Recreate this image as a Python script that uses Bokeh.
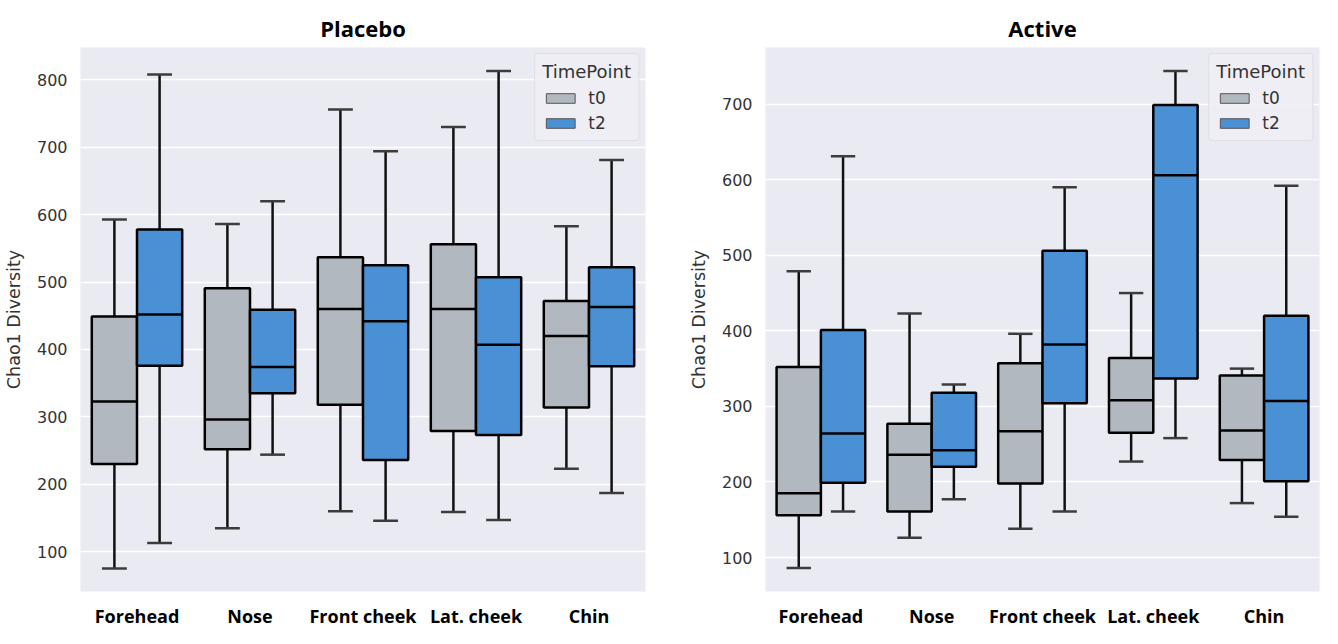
from bokeh.plotting import figure
from bokeh.layouts import row
from bokeh.models import ColumnDataSource, FactorRange, Legend, LegendItem, FixedTicker
from bokeh.transform import dodge
from bokeh.embed import file_html
from bokeh.resources import INLINE

sites = ["Forehead", "Nose", "Front cheek", "Lat. cheek", "Chin"]
timepoints = ["t0", "t2"]
colors = {"t0": "#b2b8bf", "t2": "#4a90d4"}

# Placebo: whisker low, Q1, median, Q3, whisker high
placebo_t0_low = [75, 135, 160, 159, 223]
placebo_t0_q1 = [230, 252, 318, 279, 314]
placebo_t0_med = [323, 296, 460, 460, 420]
placebo_t0_q3 = [449, 491, 537, 556, 472]
placebo_t0_high = [593, 586, 756, 730, 583]

placebo_t2_low = [113, 244, 146, 147, 187]
placebo_t2_q1 = [376, 335, 236, 273, 375]
placebo_t2_med = [452, 374, 442, 407, 463]
placebo_t2_q3 = [578, 459, 525, 507, 522]
placebo_t2_high = [808, 620, 694, 813, 681]

# Active
active_t0_low = [86, 126, 138, 227, 172]
active_t0_q1 = [156, 161, 198, 265, 229]
active_t0_med = [185, 236, 267, 308, 268]
active_t0_q3 = [352, 277, 357, 364, 341]
active_t0_high = [479, 423, 396, 450, 350]

active_t2_low = [161, 177, 161, 258, 154]
active_t2_q1 = [199, 220, 304, 337, 201]
active_t2_med = [264, 242, 382, 606, 307]
active_t2_q3 = [401, 318, 506, 699, 420]
active_t2_high = [631, 329, 590, 744, 592]

placebo_yticks = [100, 200, 300, 400, 500, 600, 700, 800]
active_yticks = [100, 200, 300, 400, 500, 600, 700]


def make_panel(title, series, yrange, yticks, width, left, right, title_offset):
    p = figure(
        x_range=FactorRange(factors=sites, range_padding=0),
        y_range=yrange,
        width=width, height=630,
        min_border_left=left, min_border_right=right,
        min_border_top=47, min_border_bottom=0,
        output_backend="svg", toolbar_location=None,
        title=title,
    )
    p.title.align = "center"
    p.title.offset = title_offset
    p.title.text_font = "Open Sans"
    p.title.text_font_style = "bold"
    p.title.text_font_size = "22px"
    p.title.text_color = "#000000"
    p.background_fill_color = "#eaeaf2"
    p.border_fill_color = "#ffffff"
    p.outline_line_color = None
    p.xgrid.grid_line_color = None
    p.ygrid.grid_line_color = "#ffffff"
    p.ygrid.grid_line_width = 1.5
    p.yaxis.ticker = FixedTicker(ticks=yticks)
    for ax in (p.xaxis, p.yaxis):
        ax.axis_line_color = None
        ax.major_tick_line_color = None
        ax.minor_tick_line_color = None
        ax.major_tick_out = 0
        ax.major_tick_in = 0
        ax.minor_tick_out = 0
    p.yaxis.major_label_text_font = "DejaVu Sans"
    p.yaxis.major_label_text_font_size = "16px"
    p.yaxis.major_label_text_color = "#333333"
    p.yaxis.major_label_standoff = 13
    p.yaxis.axis_label = "Chao1 Diversity"
    p.yaxis.axis_label_text_font = "DejaVu Sans"
    p.yaxis.axis_label_text_font_style = "normal"
    p.yaxis.axis_label_text_font_size = "17.5px"
    p.yaxis.axis_label_text_color = "#333333"
    p.yaxis.axis_label_standoff = 10
    p.xaxis.axis_label = None
    p.xaxis.axis_label_standoff = 0
    p.xaxis.major_label_text_font = "Open Sans"
    p.xaxis.major_label_text_font_style = "bold"
    p.xaxis.major_label_text_font_size = "18px"
    p.xaxis.major_label_text_color = "#000000"
    p.xaxis.major_label_standoff = 12

    items = []
    for tp, off in (("t0", -0.2), ("t2", 0.2)):
        low, q1, med, q3, high = series[tp]
        src = ColumnDataSource(dict(site=sites, low=low, q1=q1, med=med, q3=q3, high=high))
        # legend proxy: zero-height bars hidden under the box bottoms
        proxy = p.vbar(x=dodge("site", off, range=p.x_range), width=0.4, bottom="q1", top="q1",
                       source=src, fill_color=colors[tp], line_color="#555555", line_width=1)
        items.append(LegendItem(label=tp, renderers=[proxy]))
        # whiskers
        p.segment(x0=dodge("site", off, range=p.x_range), x1=dodge("site", off, range=p.x_range),
                  y0="q3", y1="high", source=src, line_color="#111111", line_width=2.5)
        p.segment(x0=dodge("site", off, range=p.x_range), x1=dodge("site", off, range=p.x_range),
                  y0="q1", y1="low", source=src, line_color="#111111", line_width=2.5)
        # caps
        for col in ("high", "low"):
            p.segment(x0=dodge("site", off - 0.11, range=p.x_range),
                      x1=dodge("site", off + 0.11, range=p.x_range),
                      y0=col, y1=col, source=src, line_color="#3c3c3c", line_width=2.5)
        # boxes
        p.vbar(x=dodge("site", off, range=p.x_range), width=0.4, bottom="q1", top="q3",
               source=src, fill_color=colors[tp], line_color="#000000", line_width=2.5)
        # medians
        p.segment(x0=dodge("site", off - 0.2, range=p.x_range),
                  x1=dodge("site", off + 0.2, range=p.x_range),
                  y0="med", y1="med", source=src, line_color="#000000", line_width=2.5)

    legend = Legend(items=items, location="top_right", title="TimePoint")
    legend.title_text_font = "DejaVu Sans"
    legend.title_text_font_size = "18px"
    legend.title_text_font_style = "normal"
    legend.title_text_color = "#333333"
    legend.title_standoff = 6
    legend.label_text_font = "DejaVu Sans"
    legend.label_text_font_size = "17px"
    legend.label_text_color = "#333333"
    legend.glyph_width = 36
    legend.glyph_height = 12
    legend.label_height = 20
    legend.label_standoff = 10
    legend.spacing = 5
    legend.padding = 7
    legend.margin = 6
    legend.background_fill_color = "#eeeef4"
    legend.background_fill_alpha = 0.9
    legend.border_line_color = "#d0d0d8"
    legend.border_line_width = 1
    legend.border_radius = 4
    p.add_layout(legend, "center")
    return p


p1 = make_panel(
    "Placebo",
    {"t0": (placebo_t0_low, placebo_t0_q1, placebo_t0_med, placebo_t0_q3, placebo_t0_high),
     "t2": (placebo_t2_low, placebo_t2_q1, placebo_t2_med, placebo_t2_q3, placebo_t2_high)},
    (41, 848), placebo_yticks, width=685, left=75, right=40, title_offset=-14)

p2 = make_panel(
    "Active",
    {"t0": (active_t0_low, active_t0_q1, active_t0_med, active_t0_q3, active_t0_high),
     "t2": (active_t2_low, active_t2_q1, active_t2_med, active_t2_q3, active_t2_high)},
    (55, 775), active_yticks, width=637, left=68, right=3, title_offset=-3)

layout = row(p1, p2)
open("out.html", "w").write(file_html(layout, INLINE))
